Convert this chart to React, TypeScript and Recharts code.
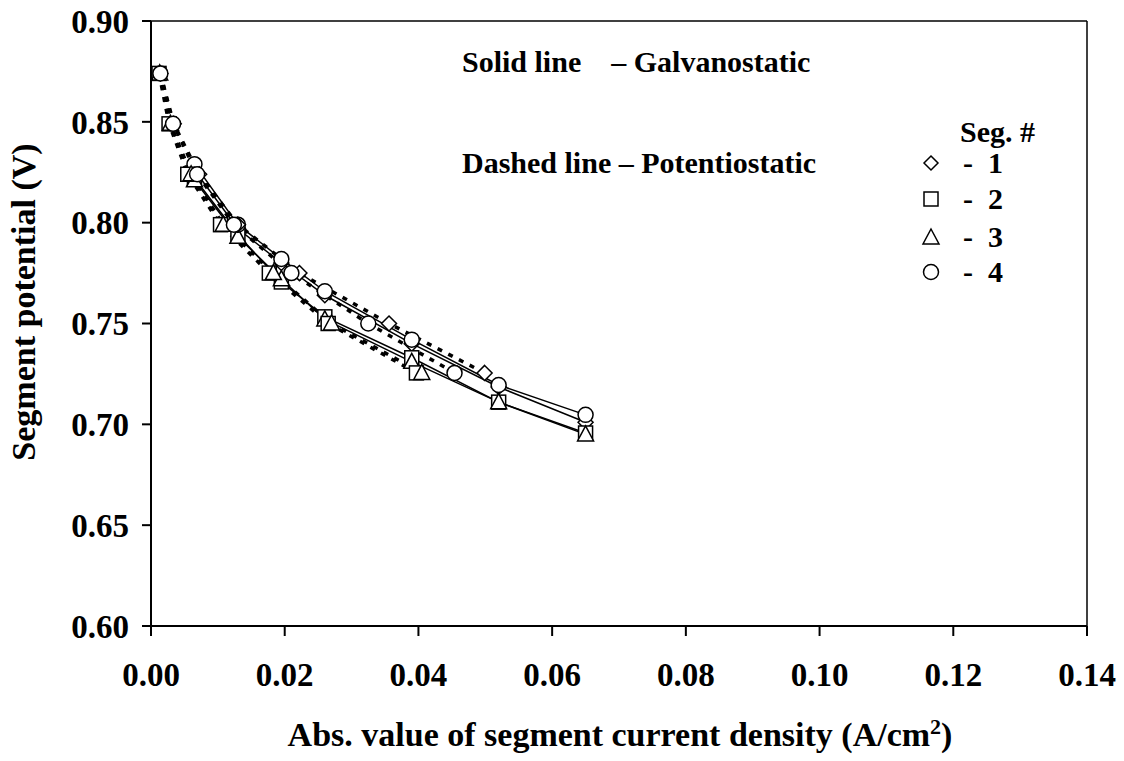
import React from 'react';
import { ScatterChart, Scatter, XAxis, YAxis, ReferenceLine } from 'recharts';

// galvanostatic runs: every segment at the same current density
const galvX = [0.0065, 0.013, 0.0195, 0.026, 0.039, 0.052, 0.065];
const galvSeg1 = [0.826, 0.797, 0.780, 0.764, 0.740, 0.7185, 0.701];
const galvSeg2 = [0.822, 0.794, 0.7706, 0.7533, 0.733, 0.711, 0.6957];
const galvSeg3 = [0.821, 0.793, 0.772, 0.752, 0.731, 0.711, 0.695];
const galvSeg4 = [0.829, 0.799, 0.782, 0.766, 0.742, 0.7195, 0.7047];

// potentiostatic runs: every segment at the same potential
const potY = [0.874, 0.849, 0.824, 0.799, 0.775, 0.75, 0.7255];
const potSeg1 = [0.0014, 0.0034, 0.0072, 0.013, 0.0222, 0.0356, 0.0499];
const potSeg2 = [0.0012, 0.0027, 0.0055, 0.0104, 0.0177, 0.0265, 0.0397];
const potSeg3 = [0.0013, 0.0029, 0.006, 0.0108, 0.0183, 0.027, 0.0405];
const potSeg4 = [0.0014, 0.0033, 0.0069, 0.0124, 0.021, 0.0325, 0.0454];

const xTicks = [0, 0.02, 0.04, 0.06, 0.08, 0.1, 0.12, 0.14];
const yTicks = [0.6, 0.65, 0.7, 0.75, 0.8, 0.85, 0.9];
const xMinor = Array.from({ length: 36 }, (_, i) => +(i * 0.004).toFixed(3));
const yMinor = Array.from({ length: 31 }, (_, i) => +(0.6 + i * 0.01).toFixed(2));

const FONT = '"Liberation Serif", "Times New Roman", serif';

const galv = (ys: number[]) => galvX.map((x, i) => ({ x, y: ys[i] }));
const pot = (xs: number[]) => potY.map((y, i) => ({ x: xs[i], y }));

const Diamond = ({ cx, cy }: any) => (
  <polygon points={`${cx},${cy - 7.5} ${cx + 7.5},${cy} ${cx},${cy + 7.5} ${cx - 7.5},${cy}`} fill="#fff" stroke="#000" strokeWidth={1.5} />
);
const Square = ({ cx, cy }: any) => (
  <rect x={cx - 7} y={cy - 7} width={14} height={14} fill="#fff" stroke="#000" strokeWidth={1.5} />
);
const Triangle = ({ cx, cy }: any) => (
  <polygon points={`${cx},${cy - 8.5} ${cx + 8},${cy + 6.5} ${cx - 8},${cy + 6.5}`} fill="#fff" stroke="#000" strokeWidth={1.5} />
);
const Circle = ({ cx, cy }: any) => (
  <circle cx={cx} cy={cy} r={7.5} fill="#fff" stroke="#000" strokeWidth={1.5} />
);
const NoShape = () => <g />;

const series = [
  { name: 'g1', data: galv(galvSeg1), shape: Diamond, dashed: false },
  { name: 'g2', data: galv(galvSeg2), shape: Square, dashed: false },
  { name: 'g3', data: galv(galvSeg3), shape: Triangle, dashed: false },
  { name: 'g4', data: galv(galvSeg4), shape: Circle, dashed: false },
  { name: 'p1', data: pot(potSeg1), shape: Diamond, dashed: true },
  { name: 'p2', data: pot(potSeg2), shape: Square, dashed: true },
  { name: 'p3', data: pot(potSeg3), shape: Triangle, dashed: true },
  { name: 'p4', data: pot(potSeg4), shape: Circle, dashed: true },
];

const tickStyle = { fill: '#000', fontSize: 33, fontWeight: 'bold', fontFamily: FONT };
const textStyle: React.CSSProperties = {
  position: 'absolute', fontFamily: FONT, fontWeight: 'bold', fontSize: 30, color: '#000', whiteSpace: 'pre', lineHeight: 1,
};

const LegendSymbol = ({ kind }: { kind: string }) => (
  <svg width={20} height={20} style={{ position: 'absolute', left: -10, top: -10 }}>
    {kind === 'd' && <polygon points="10,3 17,10 10,17 3,10" fill="#fff" stroke="#000" strokeWidth={1.5} />}
    {kind === 's' && <rect x={3} y={3} width={14} height={14} fill="#fff" stroke="#000" strokeWidth={1.5} />}
    {kind === 't' && <polygon points="10,2 18,17 2,17" fill="#fff" stroke="#000" strokeWidth={1.5} />}
    {kind === 'c' && <circle cx={10} cy={10} r={7.5} fill="#fff" stroke="#000" strokeWidth={1.5} />}
  </svg>
);

const legendRows = [
  { kind: 'd', label: '1', y: 163 },
  { kind: 's', label: '2', y: 199 },
  { kind: 't', label: '3', y: 237 },
  { kind: 'c', label: '4', y: 272 },
];

export default function App() {
  return (
    <div style={{ position: 'absolute', left: 0, top: 0, width: 1124, height: 761, background: '#fff' }}>
      <ScatterChart width={1124} height={761} margin={{ top: 21, right: 37, left: 0, bottom: 0 }}>
        <XAxis xAxisId="minor" type="number" dataKey="x" domain={[0, 0.14]} ticks={xMinor} tick={false}
          tickSize={6} tickLine={{ stroke: '#000', strokeWidth: 1.5 }} axisLine={false} height={0} />
        <XAxis type="number" dataKey="x" domain={[0, 0.14]} ticks={xTicks} tickFormatter={(v: number) => v.toFixed(2)}
          tick={tickStyle} tickSize={10} tickMargin={27} height={135}
          tickLine={{ stroke: '#000', strokeWidth: 2 }} axisLine={{ stroke: '#000', strokeWidth: 2 }} />
        <YAxis yAxisId="minor" type="number" dataKey="y" domain={[0.6, 0.9]} ticks={yMinor} tick={false}
          tickSize={5} tickLine={{ stroke: '#000', strokeWidth: 1.5 }} axisLine={false} width={0} />
        <YAxis type="number" dataKey="y" domain={[0.6, 0.9]} ticks={yTicks} tickFormatter={(v: number) => v.toFixed(2)}
          tick={tickStyle} tickSize={9} tickMargin={13} width={151}
          tickLine={{ stroke: '#000', strokeWidth: 2 }} axisLine={{ stroke: '#000', strokeWidth: 2 }} />
        <ReferenceLine y={0.9} stroke="#000" strokeWidth={1.5} />
        <ReferenceLine x={0.14} stroke="#000" strokeWidth={1.5} />
        {series.map(s => (
          <Scatter key={s.name + '-line'} data={s.data} shape={NoShape} isAnimationActive={false}
            line={s.dashed
              ? { stroke: '#000', strokeWidth: 3.5, strokeDasharray: '5 7' }
              : { stroke: '#000', strokeWidth: 1.5 }}
            lineType="joint" />
        ))}
        {series.map(s => (
          <Scatter key={s.name + '-pts'} data={s.data} shape={s.shape} isAnimationActive={false} />
        ))}
      </ScatterChart>

      <div style={{ ...textStyle, left: 462, top: 47 }}>Solid line    – Galvanostatic</div>
      <div style={{ ...textStyle, left: 462, top: 148 }}>Dashed line – Potentiostatic</div>
      <div style={{ ...textStyle, left: 960, top: 117 }}>Seg. #</div>
      {legendRows.map(r => (
        <div key={r.label} style={{ position: 'absolute', left: 931, top: r.y }}>
          <LegendSymbol kind={r.kind} />
          <div style={{ ...textStyle, left: 32, top: -15 }}>-  {r.label}</div>
        </div>
      ))}

      <div style={{ ...textStyle, fontSize: 34, left: 24, top: 302, transform: 'translate(-50%, -50%) rotate(-90deg)' }}>
        Segment potential (V)
      </div>
      <div style={{ ...textStyle, fontSize: 34, left: 620, top: 734, transform: 'translate(-50%, -50%)' }}>
        Abs. value of segment current density (A/cm<sup style={{ fontSize: 22 }}>2</sup>)
      </div>
    </div>
  );
}
